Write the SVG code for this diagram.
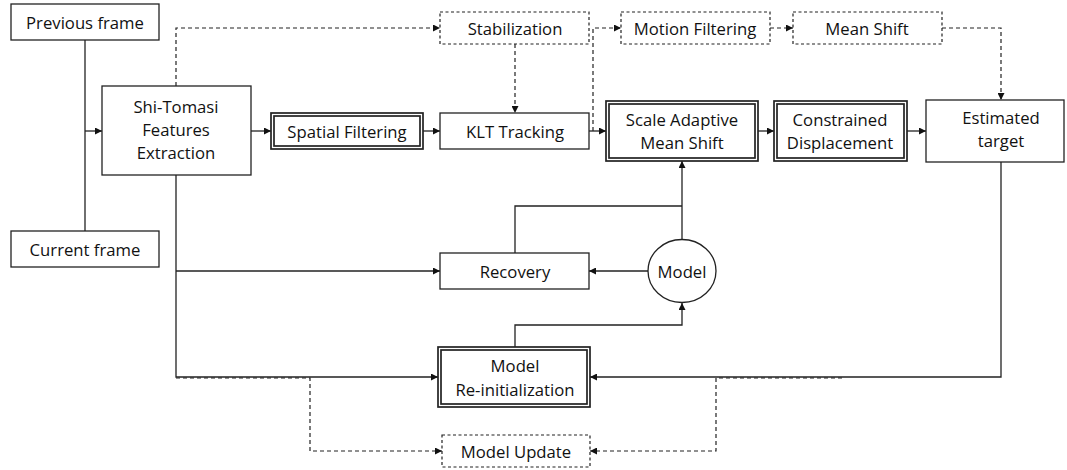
<svg xmlns="http://www.w3.org/2000/svg" width="1067" height="470" viewBox="0 0 1067 470">
<style>
.box{fill:#fff;stroke:#222;stroke-width:1.3}
.dbox{fill:#fff;stroke:#222;stroke-width:1.2;stroke-dasharray:3 2.5}
.outer{fill:#fff;stroke:#222;stroke-width:1.7}
.inner{fill:none;stroke:#222;stroke-width:1.7}
.t{font-family:"Open Sans","Liberation Sans",sans-serif;font-size:16.7px;fill:#111;text-anchor:middle;dominant-baseline:central}
.c{fill:none;stroke:#222;stroke-width:1.3}
.d{fill:none;stroke:#222;stroke-width:1.2;stroke-dasharray:4 3}
</style>
<defs>
<marker id="a" viewBox="0 0 10 10" refX="10" refY="5" markerWidth="7" markerHeight="7" markerUnits="userSpaceOnUse" orient="auto"><path d="M0,0 L10,5 L0,10 z" fill="#111"/></marker>
</defs>
<rect width="1067" height="470" fill="#fff"/>
<g id="connectors">
<path class="c" d="M85,40 V231"/>
<path class="c" d="M85,131 H102" marker-end="url(#a)"/>
<path class="c" d="M251,131 H271" marker-end="url(#a)"/>
<path class="c" d="M423,131 H440" marker-end="url(#a)"/>
<path class="c" d="M589,131 H606" marker-end="url(#a)"/>
<path class="c" d="M758,131 H774" marker-end="url(#a)"/>
<path class="c" d="M907,131 H926" marker-end="url(#a)"/>
<path class="d" d="M176,86 V28 H440" marker-end="url(#a)"/>
<path class="d" d="M515,44 V113" marker-end="url(#a)"/>
<path class="d" d="M593,131 V28 H621" marker-end="url(#a)"/>
<path class="d" d="M770,28 H793" marker-end="url(#a)"/>
<path class="d" d="M942,28 H1001 V100" marker-end="url(#a)"/>
<path class="c" d="M682,240 V161" marker-end="url(#a)"/>
<path class="c" d="M515,253 V206 H682"/>
<path class="c" d="M648,271 H589" marker-end="url(#a)"/>
<path class="c" d="M176,175 V377 H438" marker-end="url(#a)"/>
<path class="c" d="M176,271 H440" marker-end="url(#a)"/>
<path class="c" d="M515,347 V325 H682 V303" marker-end="url(#a)"/>
<path class="c" d="M1001,162 V377 H590" marker-end="url(#a)"/>
<path class="d" d="M176,378 H310 V451 H442" marker-end="url(#a)"/>
<path class="d" d="M842,378 H716 V451 H590" marker-end="url(#a)"/>
</g>
<g id="previous-frame"><rect class="box" x="11" y="4" width="148" height="36"/><text class="t" x="85" y="22">Previous frame</text></g>
<g id="current-frame"><rect class="box" x="11" y="231" width="148" height="36"/><text class="t" x="85" y="249">Current frame</text></g>
<g id="shi-tomasi"><rect class="box" x="102" y="86" width="149" height="89"/><text class="t" x="176" y="106">Shi-Tomasi</text><text class="t" x="176" y="129">Features</text><text class="t" x="176" y="152">Extraction</text></g>
<g id="spatial-filtering"><rect class="outer" x="271" y="113" width="152" height="36"/><rect class="inner" x="274" y="116" width="146" height="30"/><text class="t" x="347" y="131">Spatial Filtering</text></g>
<g id="klt-tracking"><rect class="box" x="440" y="113" width="149" height="36"/><text class="t" x="515" y="131">KLT Tracking</text></g>
<g id="stabilization"><rect class="dbox" x="440" y="12" width="149" height="32"/><text class="t" x="515" y="28">Stabilization</text></g>
<g id="motion-filtering"><rect class="dbox" x="621" y="12" width="149" height="32"/><text class="t" x="695" y="28">Motion Filtering</text></g>
<g id="mean-shift"><rect class="dbox" x="793" y="12" width="149" height="32"/><text class="t" x="867" y="28">Mean Shift</text></g>
<g id="scale-adaptive"><rect class="outer" x="606" y="101" width="152" height="60"/><rect class="inner" x="609" y="104" width="146" height="54"/><text class="t" x="682" y="119">Scale Adaptive</text><text class="t" x="682" y="142">Mean Shift</text></g>
<g id="constrained-displacement"><rect class="outer" x="774" y="101" width="133" height="60"/><rect class="inner" x="777" y="104" width="127" height="54"/><text class="t" x="840" y="119">Constrained</text><text class="t" x="840" y="142">Displacement</text></g>
<g id="estimated-target"><rect class="box" x="926" y="100" width="138" height="62"/><text class="t" x="1001" y="117">Estimated</text><text class="t" x="1001" y="140">target</text></g>
<g id="recovery"><rect class="box" x="440" y="253" width="149" height="36"/><text class="t" x="515" y="271">Recovery</text></g>
<g id="model"><ellipse class="box" cx="682" cy="271" rx="34" ry="31.5"/><text class="t" x="682" y="271">Model</text></g>
<g id="model-reinit"><rect class="outer" x="438" y="347" width="152" height="60"/><rect class="inner" x="441" y="350" width="146" height="54"/><text class="t" x="515" y="365">Model</text><text class="t" x="515" y="389">Re-initialization</text></g>
<g id="model-update"><rect class="dbox" x="442" y="435" width="148" height="32"/><text class="t" x="516" y="451">Model Update</text></g>
</svg>
